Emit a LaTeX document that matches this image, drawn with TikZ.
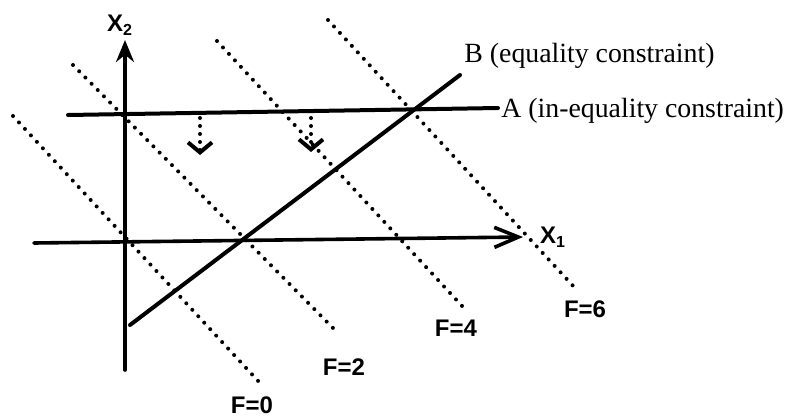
\documentclass[tikz,border=0pt]{standalone}
\usepackage{fontspec}
\setmainfont{Liberation Serif}
\setsansfont{Liberation Sans}
\usetikzlibrary{arrows.meta}
\tikzset{
  axis/.style={line width=1.8pt, line cap=round},
  constr/.style={line width=2pt, line cap=round},
  level/.style={line width=2pt, line cap=round, dash pattern=on 0pt off 4.4pt},
  movedir/.style={line width=2pt, line cap=round, dash pattern=on 0pt off 4pt},
  axlbl/.style={font=\fontsize{12}{12}\selectfont\sffamily\bfseries, inner sep=0pt},
  ctxt/.style={font=\fontsize{13.9}{14}\selectfont, inner sep=0pt}
}

\begin{document}
\begin{tikzpicture}[x=0.5pt, y=-0.5pt]
  \useasboundingbox (0,0) rectangle (785,417);
  % axes
  \coordinate (x2bot) at (125,370);
  \coordinate (x2top) at (125,40);
  \coordinate (x1left) at (34,243);
  \coordinate (x1right) at (523,237);
  \draw[axis, -{Stealth[length=11pt, width=9pt]}] (x2bot) -- (x2top);
  \draw[axis, -{Straight Barb[length=12pt, width=10pt, line width=1.8pt]}] (x1left) -- (x1right);
  \node[axlbl] (x2lbl) at (120,25) {X\textsubscript{2}};
  \node[axlbl] (x1lbl) at (553,237) {X\textsubscript{1}};

  % constraints
  \coordinate (aleft) at (68,115);
  \coordinate (aright) at (498,108);
  \coordinate (bbot) at (130,325);
  \coordinate (btop) at (460,75);
  \draw[constr] (aleft) -- (aright);
  \draw[constr] (bbot) -- (btop);
  \node[ctxt, anchor=base west] (alab) at (501,117) {A (in-equality constraint)};
  \node[ctxt, anchor=base west] (blab) at (464,63) {B (equality constraint)};

  % objective levels
  \coordinate (f0a) at (13,116);  \coordinate (f0b) at (260,383);
  \coordinate (f2a) at (73,65);   \coordinate (f2b) at (333,328);
  \coordinate (f4a) at (217,41);  \coordinate (f4b) at (463,307);
  \coordinate (f6a) at (328,20);  \coordinate (f6b) at (575,288);
  \draw[level] (f0a) -- (f0b);
  \draw[level] (f2a) -- (f2b);
  \draw[level] (f4a) -- (f4b);
  \draw[level] (f6a) -- (f6b);
  \node[axlbl] (f0lbl) at (252,405) {F=0};
  \node[axlbl] (f2lbl) at (344,367) {F=2};
  \node[axlbl] (f4lbl) at (456,328) {F=4};
  \node[axlbl] (f6lbl) at (585,309) {F=6};

  % feasible side of A
  \coordinate (s1a) at (200,118); \coordinate (s1b) at (200,155);
  \coordinate (s2a) at (311,118); \coordinate (s2b) at (311,152);
  \draw[movedir, -{Straight Barb[length=5pt, width=12pt, line width=2pt]}] (s1a) -- (s1b);
  \draw[movedir, -{Straight Barb[length=5pt, width=12pt, line width=2pt]}] (s2a) -- (s2b);
\end{tikzpicture}
\end{document}
